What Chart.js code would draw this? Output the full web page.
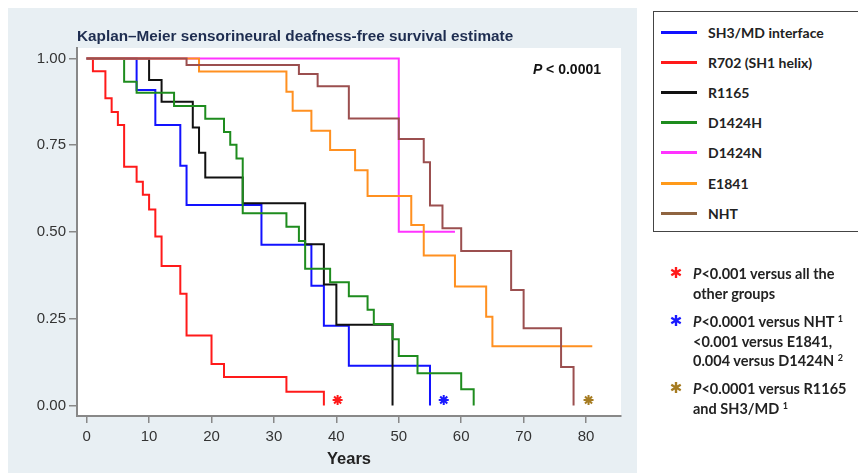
<!DOCTYPE html>
<html>
<head>
<meta charset="utf-8">
<script src="https://cdn.jsdelivr.net/npm/chart.js@4"></script>
<style>
  html, body { margin: 0; padding: 0; background: #fff; }
  body { width: 858px; height: 473px; position: relative; overflow: hidden; }
  #panel { position: absolute; left: 8px; top: 8px; width: 629px; height: 465px; background: #e8eff3; }
  #km { position: absolute; left: 0; top: 0; }
  #legend {
    position: absolute; left: 653px; top: 11px; width: 215px; height: 221px;
    border: 1.5px solid #444; box-sizing: border-box; background: #fff;
    font: bold 14px Lato, "Open Sans", sans-serif; color: #222;
  }
  .row { position: absolute; left: 7px; height: 20px; display: flex; align-items: center; }
  .row i { display: inline-block; width: 36px; height: 3px; margin-right: 11px; }
  .note { position: absolute; left: 693px; font: bold 14.5px Lato, "Open Sans", sans-serif; color: #222; line-height: 19.5px; }
  .note b.ast { position: absolute; left: -25px; top: 0; width: 16px; text-align: center; font: bold 15px "DejaVu Sans", sans-serif; }
  .note sup { font-size: 9px; line-height: 0; vertical-align: 5px; }
</style>
</head>
<body>
<div id="panel"></div>
<canvas id="km" width="858" height="473"></canvas>
<div id="legend"></div>
<div class="note" style="top:264px"><b class="ast" style="color:#ff1a1a">✱</b><i>P</i>&lt;0.001 versus all the<br>other groups</div>
<div class="note" style="top:312px"><b class="ast" style="color:#1a1aff">✱</b><i>P</i>&lt;0.0001 versus NHT <sup>1</sup><br>&lt;0.001 versus E1841,<br>0.004 versus D1424N <sup>2</sup></div>
<div class="note" style="top:379px"><b class="ast" style="color:#a67c22">✱</b><i>P</i>&lt;0.0001 versus R1165<br>and SH3/MD <sup>1</sup></div>
<script>
// Kaplan-Meier step points: [years, survival]
const sh3md = [[0,1],[8,0.909],[11,0.808],[15,0.691],[16,0.578],[28,0.463],[36,0.345],[38,0.230],[42,0.115],[55,0]];
const r702 = [[0,1],[1,0.963],[3,0.885],[4,0.846],[5,0.808],[6,0.688],[8,0.645],[9,0.607],[10,0.565],[11,0.487],[12,0.402],[15,0.322],[16,0.202],[20,0.120],[22,0.082],[32,0.040],[38,0]];
const r1165 = [[0,1],[10,0.938],[12,0.875],[17,0.801],[18,0.728],[19,0.657],[25,0.583],[35,0.465],[38,0.349],[40,0.233],[49,0]];
const d1424h = [[0,1],[6,0.933],[8,0.901],[14,0.863],[19,0.826],[22,0.788],[23,0.751],[24,0.712],[25,0.554],[32,0.515],[34,0.474],[35,0.394],[39,0.355],[42,0.315],[45,0.276],[46,0.235],[49,0.191],[50,0.143],[53,0.093],[60,0.047],[62,0]];
const d1424n = [[0,1],[50,0.501],[59,0.501]];
const e1841 = [[0,1],[18,0.962],[32,0.904],[33,0.849],[36,0.792],[39,0.736],[43,0.678],[45,0.604],[52,0.520],[54,0.432],[59,0.343],[64,0.256],[65,0.171],[81,0.171]];
const nht = [[0,1],[16,0.981],[34,0.955],[37,0.920],[42,0.827],[50,0.768],[54,0.701],[55,0.576],[57,0.511],[60,0.445],[68,0.333],[70,0.223],[76,0.111],[78,0]];

const groupNames = ['SH3/MD interface', 'R702 (SH1 helix)', 'R1165', 'D1424H', 'D1424N', 'E1841', 'NHT'];
const groupData = [sh3md, r702, r1165, d1424h, d1424n, e1841, nht];
const lineColors = ['#1212ff', '#ff1a1a', '#111111', '#1e8c1e', '#ff33ff', '#ff9020', '#9b4f4f'];
const legendColors = ['#1212ff', '#ff1a1a', '#111111', '#1e8c1e', '#ff33ff', '#ff9a1a', '#8f6440'];
const drawOrder = [5, 6, 4, 3, 2, 1, 0];

// significance markers
const starX = [40.2, 57.2, 80.4];
const starY = [0.016, 0.016, 0.016];
const starColors = ['#ff1a1a', '#1a1aff', '#a67c22'];

const xTicks = [0, 10, 20, 30, 40, 50, 60, 70, 80];
const yTicks = [0, 0.25, 0.5, 0.75, 1];

// legend box
const legend = document.getElementById('legend');
groupNames.forEach((name, i) => {
  const row = document.createElement('div');
  row.className = 'row';
  row.style.top = (10 + i * 30.2) + 'px';
  row.innerHTML = `<i style="background:${legendColors[i]}"></i>${name}`;
  legend.appendChild(row);
});

const datasets = groupData.map((pts, i) => ({
  label: groupNames[i],
  data: pts.map(p => ({ x: p[0], y: p[1] })),
  borderColor: lineColors[i],
  borderWidth: 2,
  pointRadius: 0,
  stepped: 'before',
  fill: false,
  order: drawOrder[i]
}));

datasets.push({
  label: 'markers',
  data: starX.map((x, i) => ({ x: x, y: starY[i] })),
  showLine: false,
  pointStyle: 'star',
  pointRadius: 5,
  pointBorderWidth: 2,
  pointBorderColor: starColors,
  pointBackgroundColor: starColors,
  order: -1
});

const decor = {
  id: 'decor',
  beforeDraw(chart) {
    const { ctx, chartArea: a } = chart;
    ctx.save();
    ctx.fillStyle = '#ffffff';
    ctx.fillRect(a.left, a.top, a.right - a.left, a.bottom - a.top);
    ctx.restore();
  },
  afterDraw(chart) {
    const { ctx, chartArea: a } = chart;
    ctx.save();
    ctx.fillStyle = '#1e2d50';
    ctx.font = 'bold 15.3px "Liberation Sans", Arial, sans-serif';
    ctx.textBaseline = 'middle';
    ctx.fillText('Kaplan\u2013Meier sensorineural deafness-free survival estimate', a.left, 37);

    // P value in the corner
    ctx.fillStyle = '#111';
    const rest = ' < 0.0001';
    ctx.font = 'bold 14px "Liberation Sans", Arial, sans-serif';
    const wRest = ctx.measureText(rest).width;
    ctx.font = 'italic bold 14px "Liberation Sans", Arial, sans-serif';
    const wP = ctx.measureText('P').width;
    const x0 = a.right - 20 - wRest - wP;
    ctx.fillText('P', x0, 70);
    ctx.font = 'bold 14px "Liberation Sans", Arial, sans-serif';
    ctx.fillText(rest, x0 + wP, 70);
    ctx.restore();
  }
};

const axisFont = { family: '"Liberation Sans", Arial, sans-serif', size: 15 };

new Chart(document.getElementById('km'), {
  type: 'line',
  data: { datasets: datasets },
  options: {
    responsive: false,
    animation: false,
    layout: { padding: { top: 48, right: 237, left: 0, bottom: 0 } },
    plugins: { legend: { display: false }, tooltip: { enabled: false } },
    scales: {
      x: {
        type: 'linear',
        min: -1.55,
        max: 85.6,
        afterFit: s => { s.height = 57; },
        afterBuildTicks: s => { s.ticks = xTicks.map(v => ({ value: v })); },
        ticks: { font: axisFont, color: '#333', padding: 5, maxRotation: 0 },
        grid: { drawOnChartArea: false, tickLength: 7, color: '#888', lineWidth: 1.5 },
        border: { color: '#888', width: 2 },
        title: {
          display: true,
          text: 'Years',
          color: '#222',
          font: { family: '"Liberation Sans", Arial, sans-serif', size: 16.5, weight: 'bold' },
          padding: { top: 0, bottom: 4 }
        }
      },
      y: {
        type: 'linear',
        min: -0.03,
        max: 1.03,
        afterFit: s => { s.width = 77; },
        afterBuildTicks: s => { s.ticks = yTicks.map(v => ({ value: v })); },
        ticks: { font: axisFont, color: '#333', padding: 3, callback: v => v.toFixed(2) },
        grid: { drawOnChartArea: false, tickLength: 8, color: '#888', lineWidth: 1.5 },
        border: { color: '#888', width: 2 }
      }
    }
  },
  plugins: [decor]
});
</script>
</body>
</html>
